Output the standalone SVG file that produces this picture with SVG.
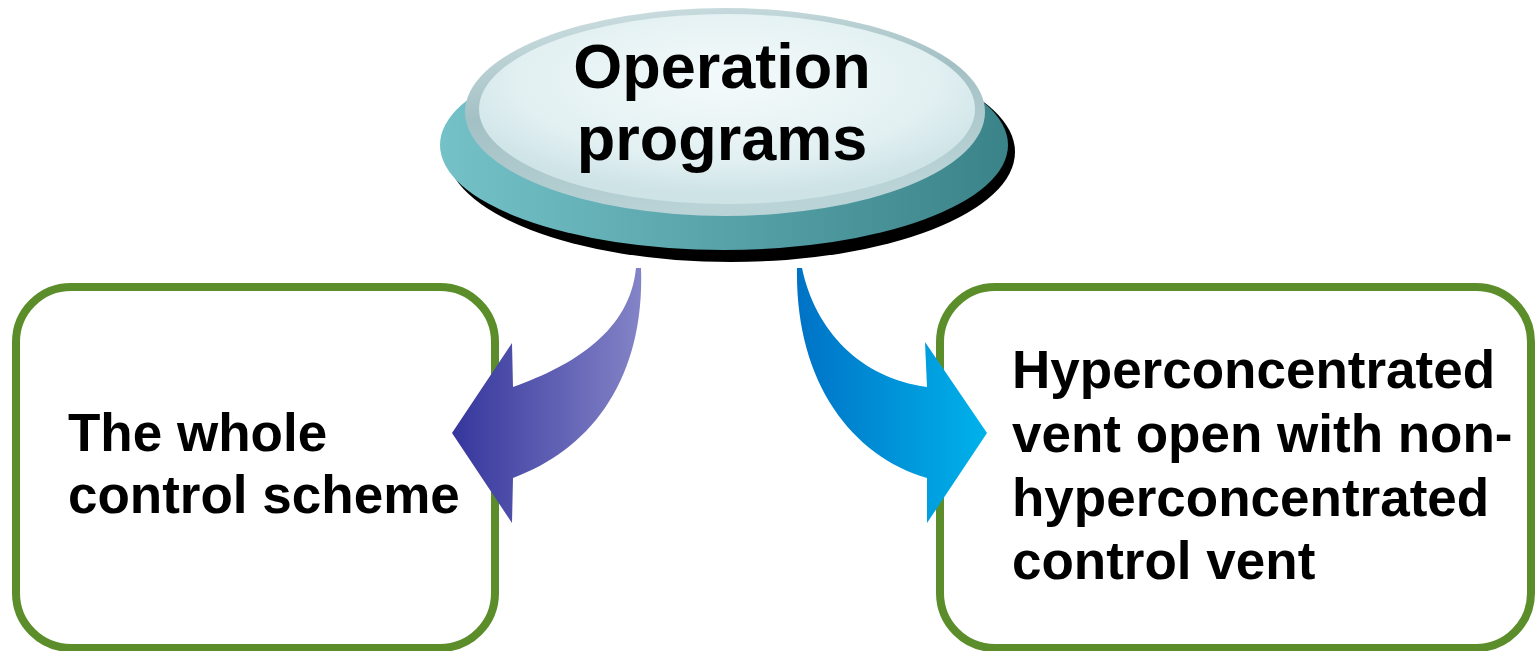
<svg xmlns="http://www.w3.org/2000/svg" width="1537" height="651" viewBox="0 0 1537 651">
<defs>
<style>
.box{fill:#ffffff;stroke:#5b8e2a;stroke-width:8}
.lbl{font-family:"Liberation Sans",Arial,sans-serif;font-weight:bold;fill:#000000}
</style>
<linearGradient id="gBase" x1="0" y1="0" x2="1" y2="0">
<stop offset="0" stop-color="#74c2c8"/>
<stop offset="1" stop-color="#3a8389"/>
</linearGradient>
<linearGradient id="gRim" x1="0" y1="0" x2="0.3" y2="1">
<stop offset="0" stop-color="#d3e3e5"/>
<stop offset="0.5" stop-color="#a3c0c4"/>
<stop offset="1" stop-color="#b9d3d6"/>
</linearGradient>
<radialGradient id="gFace" cx="0.5" cy="0.35" r="0.6">
<stop offset="0" stop-color="#f4fafb"/>
<stop offset="0.7" stop-color="#e2f0f2"/>
<stop offset="1" stop-color="#cde3e6"/>
</radialGradient>
<linearGradient id="gLeft" x1="452" y1="0" x2="645" y2="0" gradientUnits="userSpaceOnUse">
<stop offset="0" stop-color="#35369c"/>
<stop offset="1" stop-color="#8585c8"/>
</linearGradient>
<linearGradient id="gRight" x1="797" y1="0" x2="987" y2="0" gradientUnits="userSpaceOnUse">
<stop offset="0" stop-color="#0072c6"/>
<stop offset="1" stop-color="#00b2ea"/>
</linearGradient>
</defs>
<rect width="1537" height="651" fill="#ffffff"/>
<g id="node-left">
<rect class="box" x="16" y="287" width="479" height="361" rx="55"/>
<text class="lbl" font-size="53"><tspan x="68" y="451">The whole</tspan><tspan x="68" y="513">control scheme</tspan></text>
</g>
<g id="node-right">
<rect class="box" x="940" y="287" width="591" height="361" rx="55"/>
<text class="lbl" font-size="53"><tspan x="1012" y="388">Hyperconcentrated</tspan><tspan x="1012" y="452">vent open with non-</tspan><tspan x="1012" y="516">hyperconcentrated</tspan><tspan x="1012" y="579">control vent</tspan></text>
</g>
<g id="node-top">
<ellipse cx="731" cy="152" rx="284" ry="110" fill="#000000"/>
<ellipse cx="724" cy="145" rx="284" ry="105" fill="url(#gBase)"/>
<ellipse cx="725" cy="112" rx="260" ry="104" fill="url(#gRim)"/>
<ellipse cx="727" cy="109" rx="248" ry="95" fill="url(#gFace)"/>
<text class="lbl" font-size="63" text-anchor="middle"><tspan x="722" y="88">Operation</tspan><tspan x="722" y="160">programs</tspan></text>
</g>
<g id="connectors">
<path d="M 636 268 L 641 268 C 645 380 590 450 513 478 L 512 523 L 452 433 L 512 343 L 513 387 C 575 365 630 330 636 268 Z" fill="url(#gLeft)"/>
<path d="M 797 268 L 802 268 C 815 330 860 378 927 387 L 925 342 L 987 433 L 927 523 L 927 478 C 850 455 795 380 797 268 Z" fill="url(#gRight)"/>
</g>
</svg>
